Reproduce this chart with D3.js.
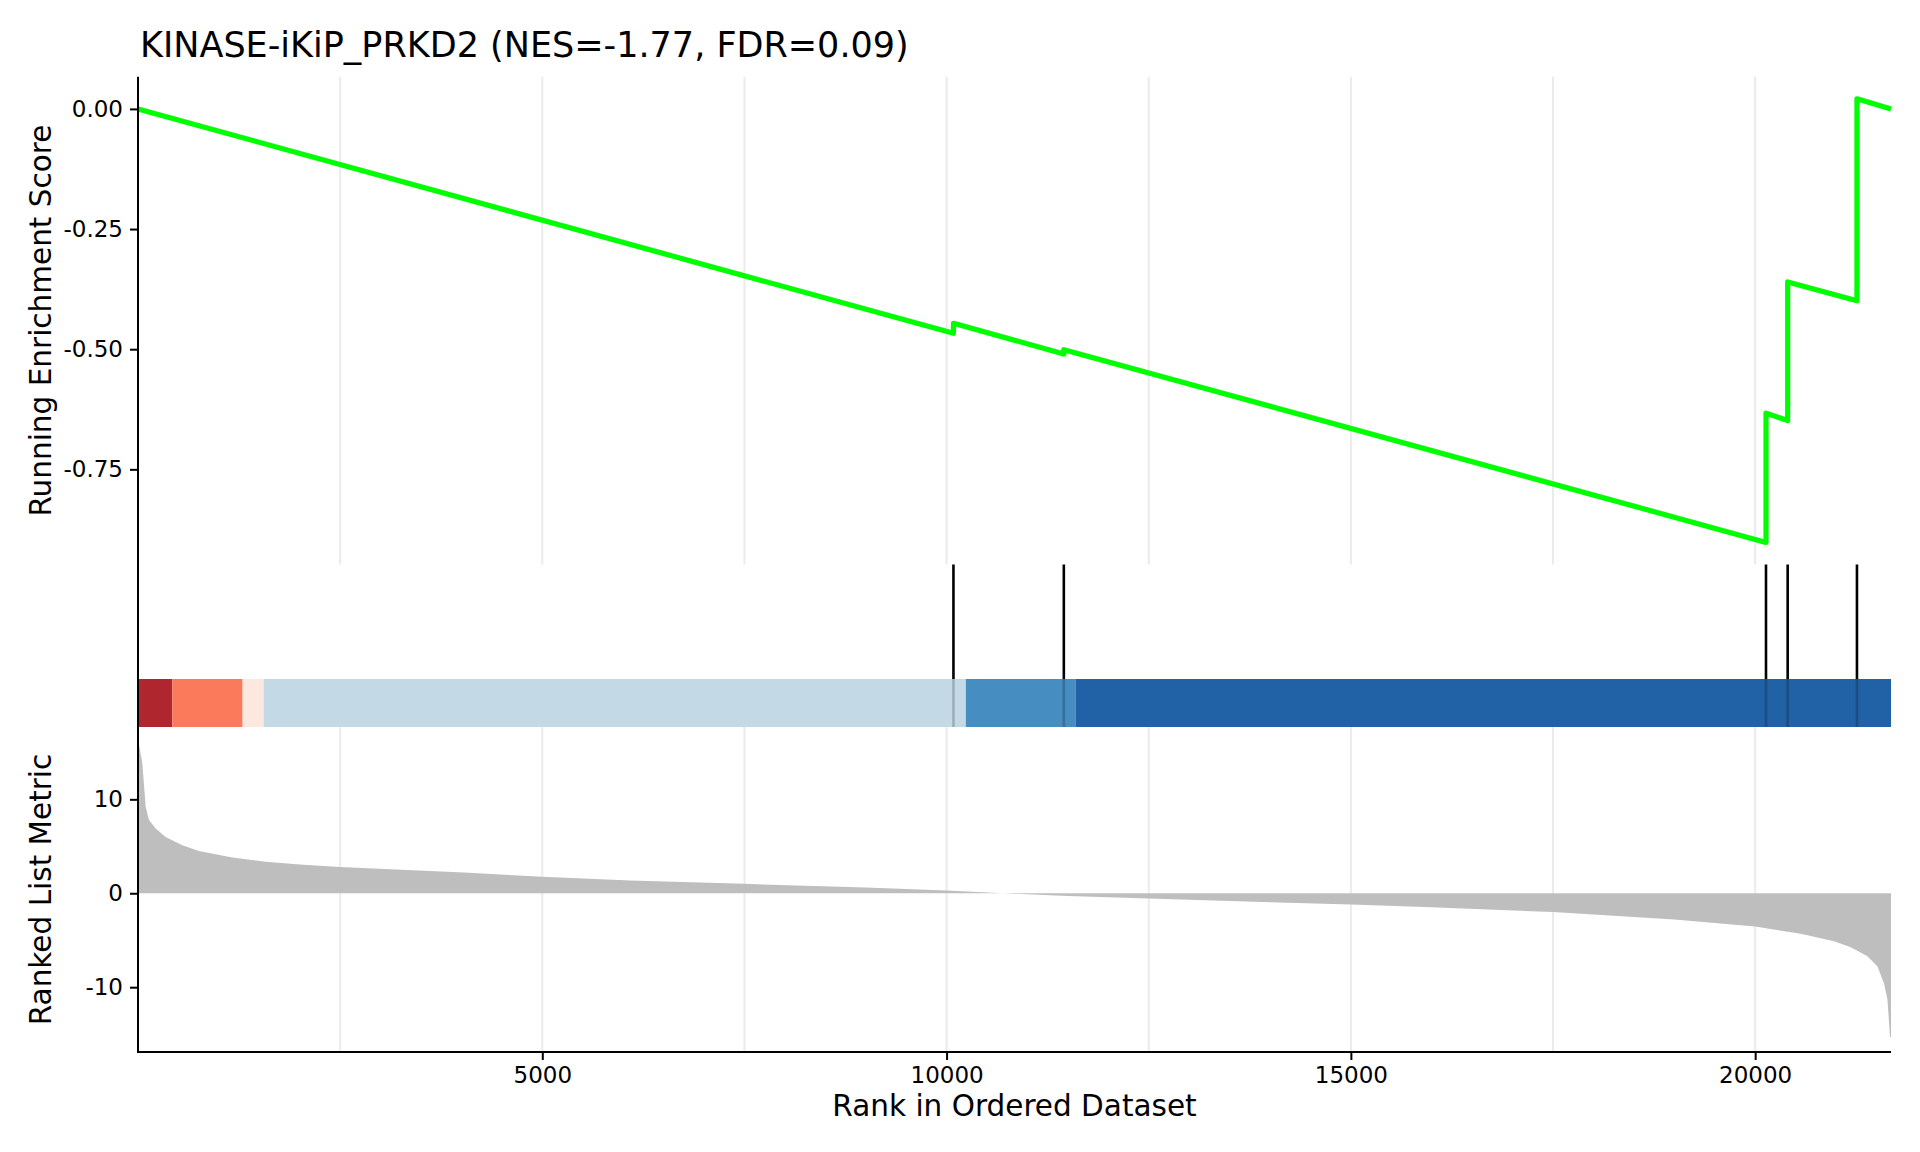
<!DOCTYPE html>
<html>
<head>
<meta charset="utf-8">
<script src="https://cdn.jsdelivr.net/npm/d3@7"></script>
<style>
  body { margin: 0; background: #fff; }
  text { font-family: "DejaVu Sans", sans-serif; }
</style>
</head>
<body>
<div id="chart"></div>
<script>
const title = 'KINASE-iKiP_PRKD2 (NES=-1.77, FDR=0.09)'
const nGenes = 21680

// running enrichment score, vertices (rank, score)
const esRank = [0, 10085, 10085, 11450, 11450, 20134, 20134, 20402, 20402, 21259, 21259, 21680]
const esScore = [0, -0.467, -0.446, -0.510, -0.501, -0.902, -0.633, -0.6485, -0.360, -0.399, 0.021, 0]

// genes of the set in the ranked list
const hitRanks = [10085, 11450, 20134, 20402, 21259]

// colour band under the hits
const bandStart = [0, 424, 1294, 1554, 10238, 11599]
const bandEnd = [424, 1294, 1554, 10238, 11599, 21680]
const bandColors = ['#af262e', '#fc7a5c', '#fde8df', '#c3dae6', '#468dc2', '#2062a5']

// ranked list metric
const metricRank = [0, 20, 53, 95, 136, 218, 342, 548, 754, 1167, 1579, 2000, 2500, 4030, 5000, 6085, 7500, 9000, 10000,
    10700, 11500, 12500, 14000, 15000, 16000, 17500, 19000, 20000, 20564, 20976, 21183, 21389, 21513, 21594, 21636, 21668, 21680]
const metricValue = [16.3, 15.5, 13.9, 9.2, 7.8, 6.9, 6.0, 5.1, 4.5, 3.8, 3.35, 3.05, 2.8, 2.2, 1.75, 1.35, 1.0, 0.6, 0.3,
    0, -0.3, -0.55, -0.95, -1.2, -1.5, -2.0, -2.8, -3.55, -4.3, -5.1, -5.75, -6.7, -7.8, -9.6, -11.3, -15.3, -15.3]

const esTicks = [0, -0.25, -0.5, -0.75]
const metricTicks = [10, 0, -10]
const rankTicks = [5000, 10000, 15000, 20000]
const gridRanks = [2500, 5000, 7500, 10000, 12500, 15000, 17500, 20000]

const width = 1920, height = 1152
const plot = {left: 138, right: 1891}
const esPanel = {top: 76.7, bottom: 564.5}
const barPanel = {top: 679, bottom: 727}
const metricPanel = {top: 727, bottom: 1052}
const colors = {
    line: '#00ff00',
    grid: '#ebebeb',
    metric: '#bebebe',
    axis: '#000'
}

const x = d3.scaleLinear().domain([0, nGenes]).range([plot.left, plot.right])
const yES = d3.scaleLinear().domain([-0.948, 0.067]).range([esPanel.bottom, esPanel.top])
const yM = d3.scaleLinear().domain([-16.9, 17.7]).range([metricPanel.bottom, metricPanel.top])

const svg = d3.select('#chart').append('svg')
    .attr('width', width)
    .attr('height', height)
    .style('background', '#fff')

// grid lines, top and bottom panels only
const grid = svg.append('g')
for (const p of [esPanel, metricPanel]) {
    grid.selectAll(null)
        .data(gridRanks)
        .join('line')
        .attr('x1', d => x(d)).attr('x2', d => x(d))
        .attr('y1', p.top).attr('y2', p.bottom)
        .attr('stroke', colors.grid)
        .attr('stroke-width', 2)
}

// ranked metric area
const area = d3.area()
    .x((d, i) => x(metricRank[i]))
    .y0(yM(0))
    .y1(d => yM(d))
svg.append('path')
    .datum(metricValue)
    .attr('d', area)
    .attr('fill', colors.metric)

// hit lines
svg.append('g').selectAll('line')
    .data(hitRanks)
    .join('line')
    .attr('x1', d => x(d)).attr('x2', d => x(d))
    .attr('y1', esPanel.bottom).attr('y2', barPanel.top)
    .attr('stroke', '#000')
    .attr('stroke-width', 2.6)

// colour band
svg.append('g').selectAll('rect')
    .data(bandColors)
    .join('rect')
    .attr('x', (d, i) => x(bandStart[i]))
    .attr('width', (d, i) => x(bandEnd[i]) - x(bandStart[i]))
    .attr('y', barPanel.top)
    .attr('height', barPanel.bottom - barPanel.top)
    .attr('fill', d => d)

// hits seen through the band
svg.append('g').selectAll('line')
    .data(hitRanks)
    .join('line')
    .attr('x1', d => x(d)).attr('x2', d => x(d))
    .attr('y1', barPanel.top).attr('y2', barPanel.bottom)
    .attr('stroke', '#000')
    .attr('stroke-opacity', 0.2)
    .attr('stroke-width', 2.6)

// running enrichment score
const line = d3.line()
    .x((d, i) => x(esRank[i]))
    .y(d => yES(d))
svg.append('path')
    .datum(esScore)
    .attr('d', line)
    .attr('fill', 'none')
    .attr('stroke', colors.line)
    .attr('stroke-width', 5.2)
    .attr('stroke-linejoin', 'round')
    .attr('stroke-linecap', 'butt')

// axes
function styleAxis(g) {
    g.select('.domain').remove()
    g.selectAll('.tick line').attr('stroke', colors.axis).attr('stroke-width', 2)
    g.selectAll('.tick text').attr('fill', '#000').style('font-size', '23px')
        .style('font-family', '"DejaVu Sans", sans-serif')
}

svg.append('g')
    .attr('transform', `translate(${plot.left},0)`)
    .call(d3.axisLeft(yES).tickValues(esTicks).tickFormat(d => d.toFixed(2)).tickSize(8).tickPadding(7))
    .call(styleAxis)

svg.append('g')
    .attr('transform', `translate(${plot.left},0)`)
    .call(d3.axisLeft(yM).tickValues(metricTicks).tickFormat(d => String(d)).tickSize(8).tickPadding(7))
    .call(styleAxis)

svg.append('g')
    .attr('transform', `translate(0,${metricPanel.bottom})`)
    .call(d3.axisBottom(x).tickValues(rankTicks).tickFormat(d => String(d)).tickSize(8).tickPadding(6.4))
    .call(styleAxis)

svg.append('line')
    .attr('x1', plot.left).attr('x2', plot.left)
    .attr('y1', esPanel.top).attr('y2', metricPanel.bottom + 1)
    .attr('stroke', colors.axis).attr('stroke-width', 2)
svg.append('line')
    .attr('x1', plot.left - 1).attr('x2', plot.right)
    .attr('y1', metricPanel.bottom).attr('y2', metricPanel.bottom)
    .attr('stroke', colors.axis).attr('stroke-width', 2)

// titles
svg.append('text')
    .attr('x', 140).attr('y', 56.7)
    .style('font-size', '35px')
    .text(title)

svg.append('text')
    .attr('transform', `translate(51,${(esPanel.top + esPanel.bottom) / 2}) rotate(-90)`)
    .attr('text-anchor', 'middle')
    .style('font-size', '29.5px')
    .text('Running Enrichment Score')

svg.append('text')
    .attr('transform', `translate(51,${(metricPanel.top + metricPanel.bottom) / 2}) rotate(-90)`)
    .attr('text-anchor', 'middle')
    .style('font-size', '29.5px')
    .text('Ranked List Metric')

svg.append('text')
    .attr('x', (plot.left + plot.right) / 2).attr('y', 1116)
    .attr('text-anchor', 'middle')
    .style('font-size', '29.5px')
    .text('Rank in Ordered Dataset')
</script>
</body>
</html>
